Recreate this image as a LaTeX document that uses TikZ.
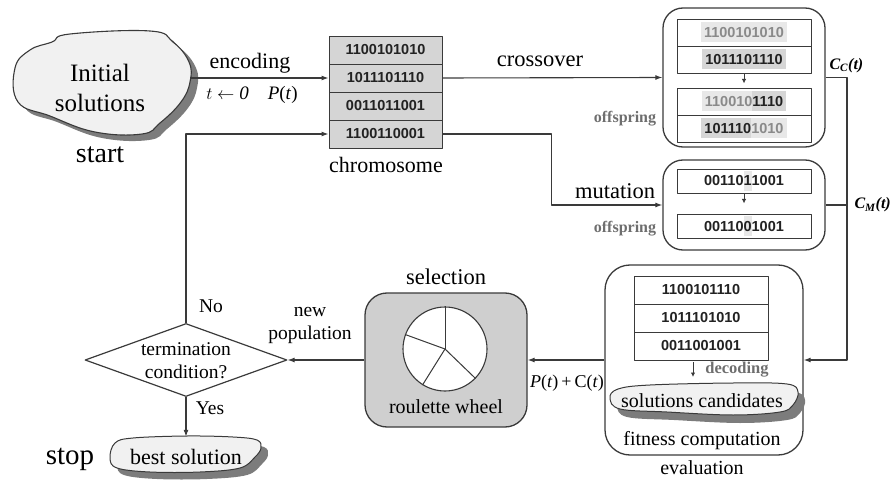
\documentclass[tikz,border=0pt]{standalone}
\usepackage{fontspec}
\setmainfont{Liberation Serif}
\newfontfamily\bitsfont{Liberation Sans}
\usetikzlibrary{shapes.geometric,arrows.meta}

\definecolor{ink}{HTML}{3A3A3A}
\definecolor{boxgray}{HTML}{CFCFCF}
\definecolor{cellgray}{HTML}{D5D5D5}
\definecolor{hlight}{HTML}{E8E8E8}
\definecolor{hdark}{HTML}{D6D6D6}
\definecolor{txtlight}{HTML}{8A8A8A}
\definecolor{bitdark}{HTML}{222222}
\definecolor{blobfill}{HTML}{F1F1F1}
\definecolor{blobshade}{HTML}{7C7C7C}
\definecolor{labelgray}{HTML}{6E6E6E}

% font size helper
\newcommand\fsz[2]{\fontsize{#1}{#2}\selectfont}
% shaded run of bits: background colour, text colour, bits
\newcommand\hseg[3]{{\setlength{\fboxsep}{0pt}\colorbox{#1}{\color{#2}\rule[-5pt]{0pt}{20pt}#3}}}

\begin{document}
\begin{tikzpicture}[x=1pt,y=-1pt,line join=round,
  arr/.style={draw=ink,line width=1.1pt,-{Latex[length=7pt,width=5pt]}},
  smallarr/.style={draw=ink,line width=1pt,-{Latex[length=4.5pt,width=4.5pt]}},
  link/.style={draw=ink,line width=1.1pt},
  bigbox/.style={draw=ink,line width=1.3pt,rounded corners=20pt,inner sep=0pt},
  cell/.style={draw=ink,line width=0.9pt,fill=white,minimum width=134pt,
    minimum height=27pt,inner sep=0pt,text=bitdark,font=\bitsfont\bfseries\fsz{14.5}{16}},
  chromcell/.style={cell,fill=cellgray,minimum width=113pt,minimum height=28pt},
  lbl/.style={font=\fsz{22}{25}},
  small/.style={font=\fsz{19.5}{23}},
  graylbl/.style={text=labelgray,font=\bfseries\fsz{16}{18}},
  ital/.style={font=\bfseries\itshape\fsz{16}{20}},
  decision/.style={draw=ink,line width=1.2pt,shape=diamond,aspect=2.77,
    minimum width=202pt,minimum height=73pt,inner sep=0pt}]
\useasboundingbox (0,0) rectangle (894,481);

% ---------- initial solutions blob ----------
\begin{scope}[shift={(7,6)}]
\fill[blobshade] plot[smooth cycle,tension=0.7] coordinates {(15,68) (30,50) (52,42) (70,34) (150,31) (173,42) (189,62) (190,82) (181,102) (160,123) (142,134) (95,132) (50,116) (18,102)};
\end{scope}
\draw[ink,line width=1.1pt,fill=blobfill] plot[smooth cycle,tension=0.7] coordinates {(15,68) (30,50) (52,42) (70,34) (150,31) (173,42) (189,62) (190,82) (181,102) (160,123) (142,134) (95,132) (50,116) (18,102)};
\node[font=\fsz{25}{30},align=center] (init) at (100,88) {Initial\\solutions};
\coordinate (initE) at (190,78);
\node[font=\fsz{28}{30}] (start) at (100,155) {start};

% ---------- chromosome ----------
\node[chromcell] (c1) at (385.5,50) {1100101010};
\node[chromcell] (c2) at (385.5,78) {1011101110};
\node[chromcell] (c3) at (385.5,106) {0011011001};
\node[chromcell] (c4) at (385.5,134) {1100110001};
\node[lbl] (chromlbl) at (386,165) {chromosome};

\draw[arr] (initE) -- (c2.west);
\node[lbl] (enc) at (250,63) {encoding};
\node[small,font=\fsz{19}{23}] (tzero) at (252,95) {$t\leftarrow\mathit{0}$\quad\textit{P}(\textit{t})};

% ---------- crossover ----------
\node[bigbox,minimum width=162pt,minimum height=139pt] (cross) at (744,77.5) {};
\node[cell] (x1) at (744,32.5) {\hseg{hlight}{txtlight}{\hspace{3pt}1100101010\hspace{3pt}}};
\node[cell] (x2) at (744,59.5) {\hseg{hdark}{bitdark}{\hspace{3pt}1011101110\hspace{3pt}}};
\node[cell] (x3) at (744,101.5) {\hseg{hlight}{txtlight}{\hspace{3pt}110010}\hseg{hdark}{bitdark}{1110\hspace{3pt}}};
\node[cell] (x4) at (744,128.5) {\hseg{hdark}{bitdark}{\hspace{3pt}101110}\hseg{hlight}{txtlight}{1010\hspace{3pt}}};
\draw[smallarr] (x2.south) -- ++(0,10);
\node[graylbl] (off1) at (625,119) {offspring};
\draw[arr] (c2.east) -- (cross.west);
\node[lbl,font=\fsz{22.5}{25}] (crosslbl) at (540,61) {crossover};

% ---------- mutation ----------
\node[bigbox,minimum width=162pt,minimum height=90pt] (mut) at (744,205) {};
\node[cell,minimum height=24pt] (m1) at (744,181) {00110\hseg{hlight}{bitdark}{1}1001};
\node[cell,minimum height=24pt] (m2) at (744,226) {00110\hseg{hlight}{bitdark}{0}1001};
\draw[smallarr] (m1.south) -- ++(0,10);
\node[graylbl] (off2) at (625,229) {offspring};
\draw[arr] (c4.east) -- ++(109,0) |- (mut.west);
\node[lbl,font=\fsz{22.5}{25}] (mutlbl) at (615,191) {mutation};

% ---------- evaluation ----------
\node[bigbox,rounded corners=25pt,minimum width=198pt,minimum height=190pt] (eval) at (704,360) {};
\node[cell,minimum height=28pt] (e1) at (701,290) {1100101110};
\node[cell,minimum height=28pt] (e2) at (701,318) {1011101010};
\node[cell,minimum height=28pt] (e3) at (701,346) {0011001001};
\coordinate (decA) at (693,362);
\draw[smallarr] (decA) -- ++(0,15);
\node[graylbl,font=\bfseries\fsz{16.5}{18}] (declbl) at (737,370) {decoding};
\begin{scope}[shift={(7,8)}]
\fill[blobshade] plot[smooth cycle,tension=0.6] coordinates {(610,398) (618,389) (650,385) (733,383) (787,384) (798,392) (793,405) (780,412) (733,415) (667,412) (620,409)};
\end{scope}
\draw[ink,line width=1pt,fill=blobfill] plot[smooth cycle,tension=0.6] coordinates {(610,398) (618,389) (650,385) (733,383) (787,384) (798,392) (793,405) (780,412) (733,415) (667,412) (620,409)};
\node[small,font=\fsz{20}{23}] (cand) at (702,401) {solutions candidates};
\node[small,font=\fsz{20}{23}] (fit) at (702,441) {fitness computation};
\node[small,font=\fsz{20}{23}] (evallbl) at (702,468) {evaluation};

% ---------- offspring collection line ----------
\coordinate (rx) at (847,0);
\draw[arr] (cross.east) -| (rx |- eval.east) -- (eval.east);
\draw[link] (mut.east) -- (mut.east -| rx);
\node[ital,anchor=south west] (cc) at (826,76) {C\textsubscript{C}(t)};
\node[ital,anchor=west] (cm) at (851,205) {C\textsubscript{M}(t)};

% ---------- selection ----------
\node[bigbox,fill=boxgray,rounded corners=22pt,minimum width=162pt,minimum height=134pt] (sel) at (446,360) {};
\node[draw=ink,line width=1.1pt,fill=white,shape=circle,minimum size=84pt,inner sep=0pt] (wheel) at (445,349) {};
\draw[ink,line width=1pt] (wheel.center) -- (wheel.90);
\draw[ink,line width=1pt] (wheel.center) -- (wheel.160);
\draw[ink,line width=1pt] (wheel.center) -- (wheel.238);
\draw[ink,line width=1pt] (wheel.center) -- (wheel.-44);
\node[lbl,font=\fsz{22.5}{25}] (sellbl) at (446,277) {selection};
\node[small,font=\fsz{20}{23}] (roul) at (446,407) {roulette wheel};
\draw[arr] (eval.west) -- (sel.east);
\node[small,font=\fsz{18}{22}] (pc) at (567,383) {\textit{P}(\textit{t})\,+\,C(\textit{t})};

% ---------- termination ----------
\node[decision] (dia) at (186,360) {};
\node[small,align=center] (dialbl) at (186,361) {termination\\condition?};
\draw[arr] (sel.west) -- (dia.east);
\node[small,align=center] (newpop) at (310,325) {new\\population};
\draw[arr] (dia.north) |- (c4.west);
\node[small] (no) at (211,306) {No};

% ---------- best solution ----------
\begin{scope}[shift={(7,7)}]
\fill[blobshade] plot[smooth cycle,tension=0.6] coordinates {(110,458) (115,443) (133,438) (187,436) (233,437) (257,440) (261,448) (255,457) (240,468) (200,472) (150,472) (117,468)};
\end{scope}
\draw[ink,line width=1pt,fill=blobfill] plot[smooth cycle,tension=0.6] coordinates {(110,458) (115,443) (133,438) (187,436) (233,437) (257,440) (261,448) (255,457) (240,468) (200,472) (150,472) (117,468)};
\node[font=\fsz{22}{26},minimum height=40pt,inner sep=0pt] (best) at (186,457) {best solution};
\draw[arr] (dia.south) -- (best.north);
\node[small] (yes) at (210,408) {Yes};
\node[font=\fsz{29}{30}] (stop) at (70,459) {stop};
\end{tikzpicture}
\end{document}
